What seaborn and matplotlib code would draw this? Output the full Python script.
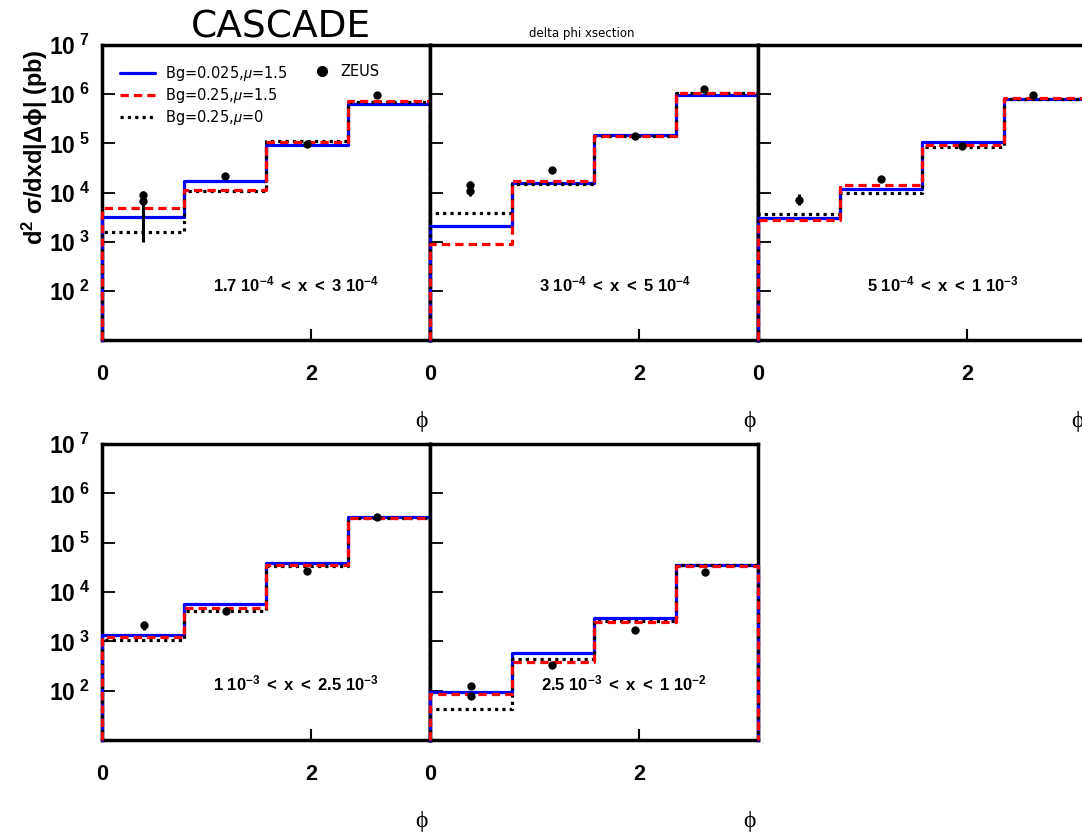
import numpy as np
import pandas as pd
import seaborn as sns
import matplotlib.pyplot as plt
from matplotlib.lines import Line2D
from matplotlib.ticker import LogLocator, NullFormatter

sns.set_theme(style = 'white')
plt.rcParams['font.family']      = ['Liberation Sans', 'DejaVu Sans']
plt.rcParams['mathtext.fontset'] = 'custom'
plt.rcParams['mathtext.rm']      = 'Liberation Sans'
plt.rcParams['mathtext.bf']      = 'Liberation Sans:bold'
plt.rcParams['mathtext.it']      = 'Liberation Sans:italic'
plt.rcParams['text.color']       = 'black'
plt.rcParams['xtick.color']      = 'black'
plt.rcParams['ytick.color']      = 'black'
plt.rcParams['axes.labelcolor']  = 'black'

########## Data

bin_edges = [0.0, 0.785, 1.571, 2.356, 3.142]

panel_labels = [r'$\mathbf{1.7\ 10^{-4}\ <\ x\ <\ 3\ 10^{-4}}$',
                r'$\mathbf{3\ 10^{-4}\ <\ x\ <\ 5\ 10^{-4}}$',
                r'$\mathbf{5\ 10^{-4}\ <\ x\ <\ 1\ 10^{-3}}$',
                r'$\mathbf{1\ 10^{-3}\ <\ x\ <\ 2.5\ 10^{-3}}$',
                r'$\mathbf{2.5\ 10^{-3}\ <\ x\ <\ 1\ 10^{-2}}$']

# Bg=0.025, mu=1.5
blue_1 = [3.2e3, 1.7e4, 9.4e4, 6.4e5]
blue_2 = [2.06e3, 1.57e4, 1.49e5, 9.6e5]
blue_3 = [3.0e3, 1.2e4, 1.04e5, 8.1e5]
blue_4 = [1.32e3, 5.8e3, 3.9e4, 3.35e5]
blue_5 = [93, 585, 2.95e3, 3.6e4]

# Bg=0.25, mu=1.5
red_1 = [4.8e3, 1.1e4, 1.04e5, 7.1e5]
red_2 = [9.1e2, 1.7e4, 1.38e5, 1.07e6]
red_3 = [2.75e3, 1.43e4, 9.4e4, 8.2e5]
red_4 = [1.24e3, 4.8e3, 3.5e4, 3.2e5]
red_5 = [85, 385, 2.45e3, 3.4e4]

# Bg=0.25, mu=0
black_1 = [1.6e3, 1.06e4, 1.1e5, 7.0e5]
black_2 = [3.8e3, 1.5e4, 1.43e5, 1.05e6]
black_3 = [3.7e3, 1.0e4, 8.4e4, 8.0e5]
black_4 = [1.04e3, 4.1e3, 3.4e4, 3.2e5]
black_5 = [42, 440, 2.6e3, 3.5e4]

# ZEUS points: phi, value, lower and upper end of the error bar
zeus_x_1  = [0.39, 0.39, 1.18, 1.96, 2.63]
zeus_y_1  = [9.0e3, 6.6e3, 2.2e4, 9.8e4, 9.7e5]
zeus_lo_1 = [8.0e3, 1.0e3, 2.0e4, 9.2e4, 9.2e5]
zeus_hi_1 = [1.05e4, 8.0e3, 2.45e4, 1.05e5, 1.02e6]

zeus_x_2  = [0.38, 0.38, 1.17, 1.96, 2.62]
zeus_y_2  = [1.45e4, 1.05e4, 2.9e4, 1.38e5, 1.3e6]
zeus_lo_2 = [1.3e4, 8.3e3, 2.5e4, 1.3e5, 1.22e6]
zeus_hi_2 = [1.7e4, 1.2e4, 3.3e4, 1.46e5, 1.38e6]

zeus_x_3  = [0.39, 1.18, 1.95, 2.63]
zeus_y_3  = [7.2e3, 1.9e4, 8.8e4, 9.4e5]
zeus_lo_3 = [5.6e3, 1.65e4, 8.3e4, 8.9e5]
zeus_hi_3 = [9.5e3, 2.2e4, 9.3e4, 9.9e5]

zeus_x_4  = [0.40, 1.19, 1.96, 2.63]
zeus_y_4  = [2.1e3, 4.2e3, 2.7e4, 3.3e5]
zeus_lo_4 = [1.7e3, 3.8e3, 2.5e4, 3.1e5]
zeus_hi_4 = [2.6e3, 4.6e3, 2.9e4, 3.5e5]

zeus_x_5  = [0.39, 0.39, 1.17, 1.96, 2.63]
zeus_y_5  = [123, 77, 330, 1.7e3, 2.6e4]
zeus_lo_5 = [110, 68, 290, 1.5e3, 2.45e4]
zeus_hi_5 = [135, 88, 370, 1.95e3, 2.75e4]

ytick_vals   = [1e2, 1e3, 1e4, 1e5, 1e6, 1e7]
ytick_labels = [r'$\mathbf{10^{\ 2}}$', r'$\mathbf{10^{\ 3}}$', r'$\mathbf{10^{\ 4}}$',
                r'$\mathbf{10^{\ 5}}$', r'$\mathbf{10^{\ 6}}$', r'$\mathbf{10^{\ 7}}$']

panels = [
    (blue_1, red_1, black_1, zeus_x_1, zeus_y_1, zeus_lo_1, zeus_hi_1),
    (blue_2, red_2, black_2, zeus_x_2, zeus_y_2, zeus_lo_2, zeus_hi_2),
    (blue_3, red_3, black_3, zeus_x_3, zeus_y_3, zeus_lo_3, zeus_hi_3),
    (blue_4, red_4, black_4, zeus_x_4, zeus_y_4, zeus_lo_4, zeus_hi_4),
    (blue_5, red_5, black_5, zeus_x_5, zeus_y_5, zeus_lo_5, zeus_hi_5),
]

########## Layout

y_min, y_max = 10, 1e7
fig = plt.figure(figsize = (10.82, 8.39), dpi = 100)

W, H   = 1082, 839
ax_w   = 328 / W
pos    = [(102, 45, 340), (430, 45, 340), (758, 45, 340),
          (102, 444, 740), (430, 444, 740)]

def draw_hist(ax, values, color, ls, z):
    xs = [bin_edges[0]] + bin_edges + [bin_edges[-1]]
    ys = [y_min] + values + [values[-1], y_min]
    df = pd.DataFrame({'phi': xs, 'val': ys})
    sns.lineplot(data = df, x = 'phi', y = 'val', sort = False, estimator = None,
                 drawstyle = 'steps-post', color = color, linestyle = ls, lw = 2.3,
                 ax = ax, zorder = z, clip_on = False, legend = False)

for i, (left, top, bottom) in enumerate(pos):
    blue, red, black, zx, zy, zlo, zhi = panels[i]
    ax = fig.add_axes([left / W, 1 - bottom / H, ax_w, (bottom - top) / H])
    ax.set_yscale('log')

    draw_hist(ax, blue, 'blue', '-', 4)
    draw_hist(ax, black, 'black', (0, (1.0, 1.3)), 5)
    draw_hist(ax, red, 'red', (0, (2.6, 1.6)), 6)

    ax.vlines(zx, zlo, zhi, color = 'black', lw = 2.2, zorder = 7)
    sns.scatterplot(x = zx, y = zy, color = 'black', s = 36, edgecolor = 'black',
                    linewidth = 0, zorder = 8, ax = ax, legend = False)

    ax.set_xlim(bin_edges[0], bin_edges[-1])
    ax.set_ylim(y_min, y_max)
    ax.set_xlabel('')
    ax.set_ylabel('')

    ax.set_xticks([0, 2], labels = ['0', '2'])
    ax.set_yticks(ytick_vals, labels = ytick_labels)
    ax.yaxis.set_minor_locator(LogLocator(base = 10, subs = np.arange(2, 10)))
    ax.yaxis.set_minor_formatter(NullFormatter())
    ax.tick_params(axis = 'x', which = 'both', direction = 'in', length = 8, width = 1.5,
                   pad = 17, labelsize = 15.5, bottom = True, top = False)
    ax.tick_params(axis = 'y', which = 'major', direction = 'in', length = 9, width = 1.3,
                   pad = 9, labelsize = 16.5, left = True, right = False)
    ax.tick_params(axis = 'y', which = 'minor', direction = 'in', length = 4.5, width = 1.0,
                   left = True, right = False)
    for lab in ax.get_xticklabels():
        lab.set_fontweight('bold')
    if i in (1, 2, 4):
        ax.tick_params(axis = 'y', labelleft = False)

    for sp in ax.spines.values():
        sp.set_linewidth(2.5)
        sp.set_color('black')
        sp.set_zorder(3)

    ax.text(0.59 if i in (0, 3, 4) else 0.563, 0.19, panel_labels[i],
            transform = ax.transAxes, ha = 'center', va = 'center', fontsize = 12)
    ax.text(0.975, -0.275, 'ϕ', transform = ax.transAxes, ha = 'center', va = 'center',
            fontsize = 17, family = ['Liberation Serif', 'DejaVu Serif'])

    if i == 0:
        handles = [Line2D([], [], color = 'blue', lw = 2.3),
                   Line2D([], [], color = 'red', lw = 2.3, linestyle = (0, (2.6, 1.6))),
                   Line2D([], [], color = 'black', lw = 2.3, linestyle = (0, (1.0, 1.3)))]
        labels  = [r'Bg=0.025,$\mu$=1.5', r'Bg=0.25,$\mu$=1.5', r'Bg=0.25,$\mu$=0']
        leg = ax.legend(handles, labels, loc = 'upper left', bbox_to_anchor = (0.033, 0.96),
                        frameon = False, handlelength = 2.4,
                        handletextpad = 0.7, labelspacing = 0.2, borderpad = 0,
                        prop = {'family': 'DejaVu Sans', 'size': 10.5})
        ax.add_artist(leg)
        zeus_h = Line2D([], [], color = 'black', marker = 'o', markersize = 7, linestyle = 'none')
        ax.legend([zeus_h], ['ZEUS'], loc = 'upper left', bbox_to_anchor = (0.625, 0.96),
                  frameon = False, handlelength = 1.0, handletextpad = 0.8, borderpad = 0,
                  prop = {'family': 'DejaVu Sans', 'size': 10.5})

########## Titles

fig.text(281 / W, 1 - 37 / H, 'CASCADE', ha = 'center', va = 'baseline',
         fontsize = 27, family = 'DejaVu Sans')
fig.text(582 / W, 1 - 37 / H, 'delta phi xsection', ha = 'center', va = 'baseline',
         fontsize = 8.5, family = 'DejaVu Sans')
fig.text(35 / W, 1 - 147 / H, r'd$^{\mathbf{2}}$ σ/dxd|Δϕ| (pb)', rotation = 90,
         ha = 'center', va = 'center', fontsize = 17, fontweight = 'bold')

fig.savefig('out.png', dpi = 100)
